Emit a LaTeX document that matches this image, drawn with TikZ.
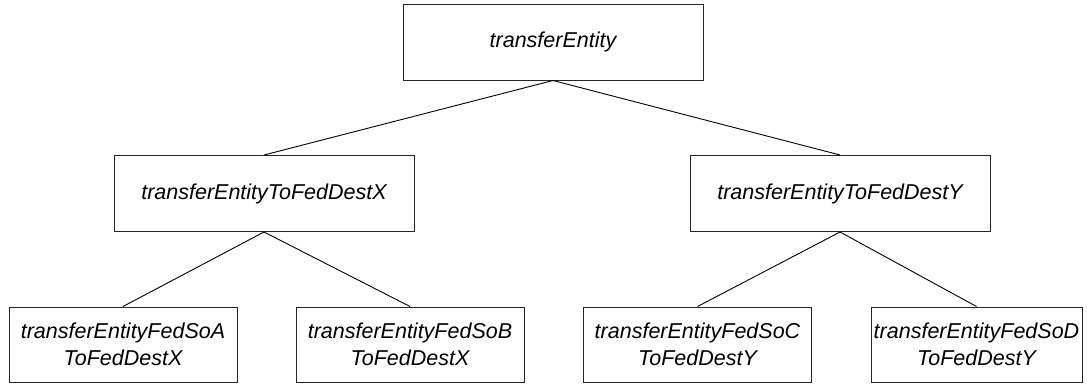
\documentclass[tikz,border=0pt]{standalone}
\usepackage{fontspec}
\setmainfont{Liberation Sans}
\begin{document}
\begin{tikzpicture}[x=1pt,y=-1pt,
  box/.style={draw=black!85, line width=1pt, rectangle, minimum width=300pt,
    minimum height=76pt, inner sep=0pt, align=center,
    font=\fontsize{21.5}{27}\selectfont\itshape},
  leaf/.style={box, minimum width=228pt, minimum height=75pt},
  link/.style={draw=black, line width=0.9pt}]
\useasboundingbox (0,0) rectangle (1087,383);
% hierarchy of transfer entities
\node[box] (root) at (553,42) {transferEntity};
\node[box] (dx) at (264,193.5) {transferEntityToFedDestX};
\node[box] (dy) at (840,193.5) {transferEntityToFedDestY};
\node[leaf] (sa) at (123,344.5) {transferEntityFedSoA\\ToFedDestX};
\node[leaf] (sb) at (410,344.5) {transferEntityFedSoB\\ToFedDestX};
\node[leaf] (sc) at (697.5,344.5) {transferEntityFedSoC\\ToFedDestY};
\node[leaf, minimum width=211pt] (sd) at (976.5,344.5) {transferEntityFedSoD\\ToFedDestY};
% connectors
\draw[link] (root.south) -- (dx.north);
\draw[link] (root.south) -- (dy.north);
\draw[link] (dx.south) -- (sa.north);
\draw[link] (dx.south) -- (sb.north);
\draw[link] (dy.south) -- (sc.north);
\draw[link] (dy.south) -- (sd.north);
\end{tikzpicture}
\end{document}
